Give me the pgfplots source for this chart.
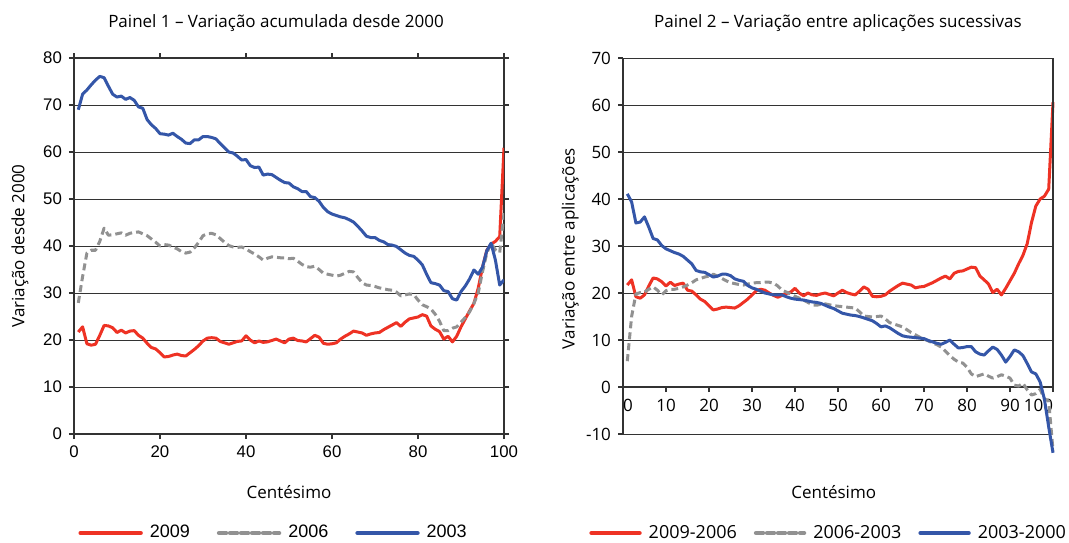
\documentclass[border=0pt]{standalone}
\usepackage{pgfplots}
\pgfplotsset{compat=1.18}
\usepackage{fontspec}
\setmainfont{Open Sans}
\newfontfamily\arial{Liberation Sans}

\definecolor{cred}{RGB}{238,50,36}
\definecolor{cblue}{RGB}{52,86,168}
\definecolor{cgray}{RGB}{145,145,145}

\pgfplotsset{
  panel/.style={
    width=215pt, height=188pt, scale only axis,
    xmin=0, xmax=100,
    xtick={0,10,...,100},
    tick align=outside,
    major tick length=2.5pt,
    ymajorgrids,
    grid style={black!80, line width=0.5pt},
    axis line style={black!80, line width=0.6pt},
    every tick/.style={black!80, line width=0.6pt},
    /pgf/number format/assume math mode=true,
    label style={font=\fontsize{8.5}{10}\selectfont},
    title style={font=\fontsize{8.5}{10}\selectfont},
    legend cell align=left,
    legend columns=3,
    legend style={draw=none, fill=none, anchor=center,
      nodes={inner xsep=3.5pt}},
    legend image code/.code={\draw[#1, line width=2.2pt, line cap=round] (0pt,0pt) -- (30pt,0pt);},
    every axis plot/.append style={line width=1.5pt, line join=round},
  },
  s09/.style={color=cred},
  s06/.style={color=cgray, dash pattern=on 3.5pt off 2pt},
  s03/.style={color=cblue},
}

\begin{document}
\begin{tikzpicture}
\useasboundingbox (0,0) rectangle (534.5pt,-271pt);

\begin{axis}[panel,
  at={(37pt,-217pt)}, anchor=south west,
  ymin=0, ymax=80, ytick={0,10,...,80},
  xtick={0,20,...,100},
  tick label style={font=\arial\fontsize{8.4}{10}\selectfont},
  title={Painel 1 -- Variação acumulada desde 2000},
  title style={at={(axis description cs:0.5,1)}, anchor=base, yshift=9.5pt, xshift=-6.5pt},
  xlabel={Centésimo},
  xlabel style={at={(axis description cs:0.5,0)}, anchor=base, yshift=-32pt},
  ylabel={Variação desde 2000},
  ylabel style={at={(axis description cs:-0.1256,0.5)}, anchor=center},
  legend style={at={(axis description cs:0.47,0)}, yshift=-49.5pt,
    font=\arial\fontsize{9}{10}\selectfont,
    /tikz/every even column/.append style={column sep=10pt}},
]
\addplot[s09] coordinates {
(1,21.7)(2,22.8)(3,19.2)(4,18.9)(5,19.1)(6,21)(7,23.1)(8,23)(9,22.6)(10,21.6)
(11,22.1)(12,21.5)(13,21.9)(14,22)(15,21)(16,20.4)(17,19.3)(18,18.4)(19,18.1)(20,17.3)
(21,16.4)(22,16.5)(23,16.8)(24,17)(25,16.7)(26,16.6)(27,17.3)(28,18)(29,18.8)(30,19.8)
(31,20.4)(32,20.5)(33,20.4)(34,19.7)(35,19.4)(36,19.1)(37,19.4)(38,19.7)(39,19.8)(40,20.9)
(41,20)(42,19.4)(43,19.8)(44,19.5)(45,19.6)(46,19.9)(47,20.2)(48,19.8)(49,19.4)(50,20.2)
(51,20.4)(52,19.9)(53,19.8)(54,19.6)(55,20.3)(56,21)(57,20.6)(58,19.3)(59,19.1)(60,19.2)
(61,19.4)(62,20.2)(63,20.8)(64,21.3)(65,21.9)(66,21.7)(67,21.5)(68,21)(69,21.3)(70,21.5)
(71,21.6)(72,22.2)(73,22.7)(74,23.2)(75,23.7)(76,22.9)(77,23.8)(78,24.5)(79,24.7)(80,24.9)
(81,25.4)(82,25.1)(83,23)(84,22.3)(85,21.8)(86,20.2)(87,20.8)(88,19.6)(89,20.8)(90,22.8)
(91,24.5)(92,26.2)(93,27.8)(94,31)(95,35.5)(96,39.1)(97,40.4)(98,41)(99,42)(100,60.9)
};
\addlegendentry{2009}
\addplot[s06] coordinates {
(1,27.9)(2,33.5)(3,38.5)(4,39.1)(5,39.1)(6,41)(7,43.8)(8,42.3)(9,42.4)(10,42.6)
(11,42.8)(12,42.3)(13,42.7)(14,42.9)(15,43)(16,42.6)(17,42.2)(18,41.5)(19,40.8)(20,40)
(21,40.3)(22,40.2)(23,39.8)(24,39.4)(25,38.8)(26,38.5)(27,38.7)(28,39.6)(29,40.8)(30,42.2)
(31,42.6)(32,42.7)(33,42.4)(34,41.6)(35,40.8)(36,40.1)(37,39.8)(38,39.7)(39,39.8)(40,39.4)
(41,38.8)(42,38.3)(43,37.7)(44,37)(45,37.4)(46,37.7)(47,37.6)(48,37.5)(49,37.5)(50,37.3)
(51,37.4)(52,36.8)(53,36.1)(54,35.6)(55,35.5)(56,35.7)(57,35)(58,34.2)(59,34)(60,33.8)
(61,33.6)(62,33.8)(63,34.2)(64,34.6)(65,34.5)(66,33.3)(67,32.2)(68,31.7)(69,31.6)(70,31.4)
(71,31.1)(72,30.9)(73,30.7)(74,30.6)(75,30.2)(76,29.4)(77,29.6)(78,29.8)(79,29.7)(80,28.5)
(81,27.5)(82,27.1)(83,26.6)(84,25.5)(85,24)(86,22)(87,22)(88,22.5)(89,22.8)(90,23.8)
(91,24.8)(92,26)(93,27.8)(94,30)(95,34.5)(96,38.5)(97,40.6)(98,39.2)(99,38.6)(100,47)
};
\addlegendentry{2006}
\addplot[s03] coordinates {
(1,69)(2,72.3)(3,73.2)(4,74.3)(5,75.3)(6,76.1)(7,75.8)(8,74)(9,72.3)(10,71.7)
(11,71.9)(12,71.2)(13,71.6)(14,71)(15,69.6)(16,69.3)(17,66.9)(18,65.8)(19,65)(20,63.9)
(21,63.8)(22,63.6)(23,64)(24,63.3)(25,62.7)(26,61.9)(27,61.8)(28,62.6)(29,62.6)(30,63.3)
(31,63.3)(32,63.1)(33,62.8)(34,61.8)(35,60.9)(36,60)(37,59.8)(38,59.1)(39,58.3)(40,58.4)
(41,57.1)(42,56.7)(43,56.8)(44,55.1)(45,55.3)(46,55.2)(47,54.6)(48,54)(49,53.5)(50,53.4)
(51,52.6)(52,52.2)(53,51.6)(54,51.6)(55,50.5)(56,50.3)(57,49.5)(58,48.2)(59,47.3)(60,46.8)
(61,46.5)(62,46.2)(63,46)(64,45.6)(65,45.1)(66,44.2)(67,43.2)(68,42.1)(69,41.8)(70,41.8)
(71,41.2)(72,40.9)(73,40.3)(74,40.2)(75,39.9)(76,39.2)(77,38.5)(78,38)(79,37.8)(80,37)
(81,36)(82,34)(83,32.2)(84,32)(85,31.7)(86,30.5)(87,30.3)(88,28.8)(89,28.5)(90,30.3)
(91,31.5)(92,33)(93,34.9)(94,34)(95,35.5)(96,39)(97,40.6)(98,37)(99,31.7)(100,32.8)
};
\addlegendentry{2003}
\end{axis}

\begin{axis}[panel,
  at={(311.5pt,-217pt)}, anchor=south west,
  ymin=-10, ymax=70, ytick={-10,0,...,70},
  xtick={10,20,...,90},
  extra x ticks={0,100},
  extra x tick labels={\makebox[0pt][l]{0},\makebox[0pt][r]{100}},
  axis y line*=left, axis x line*=middle,
  axis line style={-},
  hide obscured x ticks=false,
  clip=false,
  tick label style={font=\fontsize{8.5}{10}\selectfont},
  title={Painel 2 -- Variação entre aplicações sucessivas},
  title style={at={(axis description cs:0.5,1)}, anchor=base, yshift=9.5pt},
  xlabel={Centésimo},
  xlabel style={at={(axis description cs:0.49,0)}, anchor=base, yshift=-32pt},
  ylabel={Variação entre aplicações},
  ylabel style={at={(axis description cs:-0.123,0.493)}, anchor=center},
  legend style={at={(axis description cs:0.484,0)}, yshift=-49.5pt,
    font=\fontsize{9}{10}\selectfont,
    /tikz/every even column/.append style={column sep=5pt}},
  legend image code/.code={\draw[#1, line width=2.2pt, line cap=round] (0pt,0pt) -- (24pt,0pt);},
  after end axis/.code={\draw[black!80, line width=0.6pt] (axis cs:100,0) -- (axis cs:100,70);},
]
\addplot[s09] coordinates {
(1,21.7)(2,22.8)(3,19.2)(4,18.9)(5,19.6)(6,21.5)(7,23.2)(8,23)(9,22.4)(10,21.5)
(11,22.3)(12,21.6)(13,21.9)(14,22.1)(15,20.6)(16,20.4)(17,19.6)(18,18.7)(19,18.2)(20,17.3)
(21,16.4)(22,16.6)(23,16.9)(24,17)(25,16.9)(26,16.8)(27,17.3)(28,18)(29,18.7)(30,19.6)
(31,20.5)(32,20.8)(33,20.6)(34,20)(35,19.5)(36,19.1)(37,19.5)(38,19.9)(39,20.2)(40,21)
(41,20)(42,19.4)(43,20)(44,19.6)(45,19.5)(46,19.8)(47,20)(48,19.7)(49,19.4)(50,20)
(51,20.6)(52,20.1)(53,19.8)(54,19.6)(55,20.4)(56,21.3)(57,20.8)(58,19.3)(59,19.2)(60,19.3)
(61,19.6)(62,20.4)(63,21)(64,21.6)(65,22.1)(66,21.9)(67,21.7)(68,21.1)(69,21.3)(70,21.4)
(71,21.8)(72,22.2)(73,22.7)(74,23.2)(75,23.6)(76,23)(77,24.2)(78,24.6)(79,24.7)(80,25.1)
(81,25.5)(82,25.4)(83,23.6)(84,22.8)(85,21.9)(86,20.1)(87,20.8)(88,19.6)(89,21)(90,22.6)
(91,24.2)(92,26.2)(93,28)(94,30.5)(95,35)(96,38.5)(97,40)(98,40.6)(99,42.1)(100,60.6)
};
\addlegendentry{2009-2006}
\addplot[s06] coordinates {
(1,5.5)(2,15)(3,19.8)(4,20.1)(5,20.2)(6,20.8)(7,21.3)(8,20.6)(9,19.6)(10,20.5)
(11,20.8)(12,20.8)(13,21)(14,21.3)(15,21.7)(16,22.2)(17,22.8)(18,23.1)(19,23.4)(20,23.6)
(21,24)(22,23.6)(23,23.1)(24,22.6)(25,22.2)(26,22)(27,21.8)(28,21.7)(29,21.9)(30,22.1)
(31,22.2)(32,22.2)(33,22.3)(34,22.3)(35,22.1)(36,21.5)(37,20.6)(38,20.2)(39,19.8)(40,19.3)
(41,18.9)(42,18.5)(43,18)(44,17.5)(45,17.4)(46,17.6)(47,17.7)(48,17.5)(49,17.3)(50,17.2)
(51,17.1)(52,17)(53,16.9)(54,16.8)(55,16)(56,15.1)(57,15)(58,14.9)(59,15)(60,15.1)
(61,14.5)(62,13.7)(63,13.4)(64,13.1)(65,12.8)(66,12.2)(67,11.6)(68,11.1)(69,10.6)(70,10.2)
(71,9.8)(72,9.4)(73,9)(74,8.5)(75,7.6)(76,6.7)(77,5.9)(78,5.3)(79,5.1)(80,4.2)
(81,2.8)(82,2.2)(83,2.5)(84,2.8)(85,2.3)(86,1.9)(87,2.2)(88,2.6)(89,2.3)(90,1.9)
(91,0.4)(92,0.2)(93,0.8)(94,-0.6)(95,-1.7)(96,-1.4)(97,-0.5)(98,-2.5)(99,-3)(100,-13.5)
};
\addlegendentry{2006-2003}
\addplot[s03] coordinates {
(1,41.1)(2,39.4)(3,34.9)(4,35.1)(5,36.2)(6,34)(7,31.6)(8,31.3)(9,30.1)(10,29.4)
(11,29)(12,28.6)(13,28.3)(14,27.8)(15,27)(16,26.2)(17,24.8)(18,24.5)(19,24.4)(20,23.9)
(21,23.4)(22,23.6)(23,24)(24,24)(25,23.7)(26,23)(27,22.7)(28,22.5)(29,21.6)(30,21.1)
(31,20.8)(32,20.4)(33,20)(34,19.8)(35,19.6)(36,19.6)(37,19.6)(38,19.2)(39,18.9)(40,18.7)
(41,18.6)(42,18.5)(43,18.3)(44,18.1)(45,18)(46,17.8)(47,17.4)(48,17)(49,16.7)(50,16.2)
(51,15.7)(52,15.5)(53,15.3)(54,15.2)(55,15)(56,14.7)(57,14.4)(58,14.1)(59,13.5)(60,12.8)
(61,13)(62,12.6)(63,12)(64,11.4)(65,10.9)(66,10.7)(67,10.6)(68,10.5)(69,10.4)(70,10.3)
(71,9.9)(72,9.6)(73,9.3)(74,9.1)(75,9.5)(76,10)(77,9.1)(78,8.3)(79,8.4)(80,8.6)
(81,8.6)(82,7.5)(83,7)(84,6.8)(85,7.7)(86,8.5)(87,8)(88,6.8)(89,5.3)(90,6.5)
(91,7.9)(92,7.5)(93,6.7)(94,5)(95,3.2)(96,2.8)(97,1.1)(98,-2.6)(99,-8.5)(100,-14)
};
\addlegendentry{2003-2000}
\end{axis}
\end{tikzpicture}
\end{document}
